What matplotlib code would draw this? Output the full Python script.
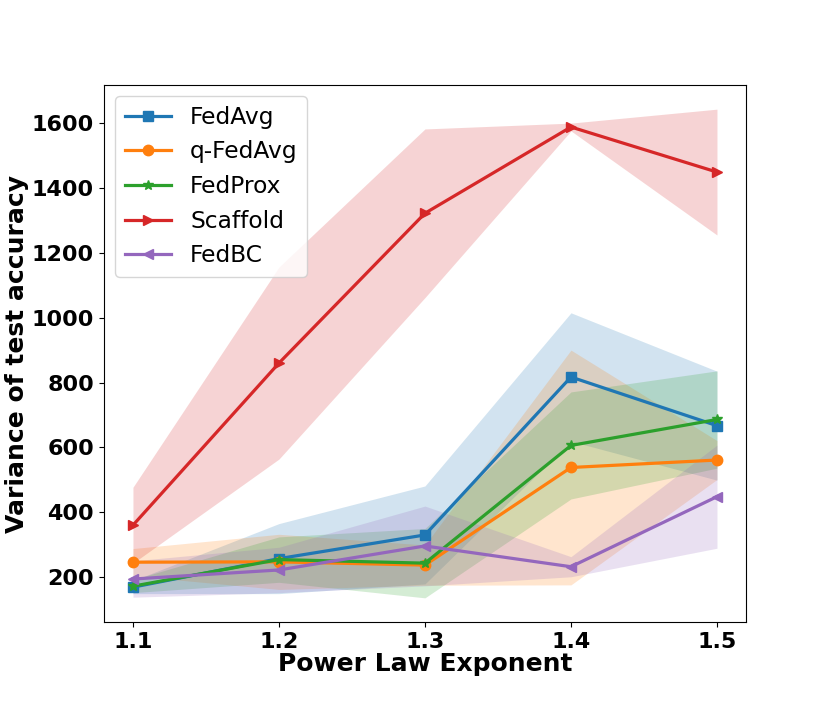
import matplotlib.pyplot as plt
import numpy as np

# x axis: power law exponent
exponents = [1.1, 1.2, 1.3, 1.4, 1.5]

# mean variance of test accuracy per method
fedavg_mean = [169, 257, 330, 817, 667]
qfedavg_mean = [246, 247, 237, 538, 561]
fedprox_mean = [172, 254, 243, 606, 686]
scaffold_mean = [360, 860, 1322, 1588, 1449]
fedbc_mean = [194, 222, 296, 232, 448]

# spread (std) used for the shaded band
fedavg_std = [20, 108, 151, 198, 168]
qfedavg_std = [42, 85, 62, 362, 60]
fedprox_std = [20, 70, 107, 165, 150]
scaffold_std = [117, 296, 260, 12, 194]
fedbc_std = [56, 70, 123, 31, 159]

names = ['FedAvg', 'q-FedAvg', 'FedProx', 'Scaffold', 'FedBC']
markers = ['s', 'o', '*', '>', '<']
colors = ['tab:blue', 'tab:orange', 'tab:green', 'tab:red', 'tab:purple']
means = [fedavg_mean, qfedavg_mean, fedprox_mean, scaffold_mean, fedbc_mean]
stds = [fedavg_std, qfedavg_std, fedprox_std, scaffold_std, fedbc_std]

fig = plt.figure(figsize=(8.3, 7.12), dpi=100)
ax = fig.add_axes([0.125, 0.126, 0.774, 0.755])

x = np.array(exponents)
for name, mk, c, m, s in zip(names, markers, colors, means, stds):
    m = np.array(m)
    s = np.array(s)
    ax.plot(x, m, marker=mk, color=c, lw=2.3, markersize=7.5, label=name)
    ax.fill_between(x, m - s, m + s, color=c, alpha=0.2, lw=0)

ax.set_xticks(exponents)
ax.set_xticklabels(['1.1', '1.2', '1.3', '1.4', '1.5'])
ax.set_yticks([200, 400, 600, 800, 1000, 1200, 1400, 1600])
for lab in ax.get_xticklabels() + ax.get_yticklabels():
    lab.set_fontsize(16)
    lab.set_fontweight('bold')

ax.set_xlabel('Power Law Exponent', fontsize=18, fontweight='bold', labelpad=0)
ax.set_ylabel('Variance of test accuracy', fontsize=18, fontweight='bold', labelpad=2)
ax.legend(loc='upper left', fontsize=16.8)

plt.savefig('out.png')
